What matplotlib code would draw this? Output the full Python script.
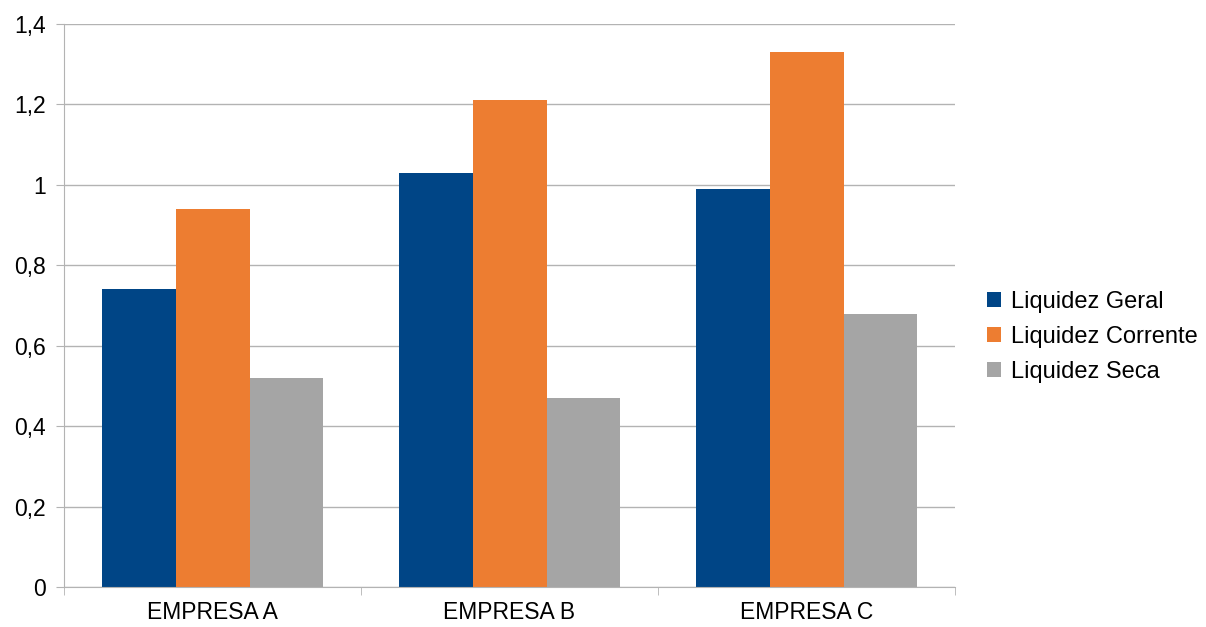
import matplotlib
matplotlib.use("Agg")
import matplotlib.pyplot as plt
import numpy as np
from matplotlib.ticker import FuncFormatter

plt.rcParams['font.family'] = ['Liberation Sans', 'DejaVu Sans']

empresas = ['EMPRESA A', 'EMPRESA B', 'EMPRESA C']
series = ['Liquidez Geral', 'Liquidez Corrente', 'Liquidez Seca']
geral = [0.74, 1.03, 0.99]
corrente = [0.94, 1.21, 1.33]
seca = [0.52, 0.47, 0.68]
cores = ['#004586', '#ed7d31', '#a5a5a5']

fig = plt.figure(figsize=(12.06, 6.27), dpi=100)
ax = fig.add_axes([0.0531, 0.0638, 0.7388, 0.8979])

x = np.arange(len(empresas))
w = 0.249
for i, (vals, nome) in enumerate(zip([geral, corrente, seca], series)):
    ax.bar(x + (i - 1) * w, vals, w, color=cores[i], label=nome, zorder=2)

ax.set_xlim(-0.5, 2.5)
ax.set_ylim(0, 1.4)
ax.set_yticks(np.arange(0, 1.41, 0.2))
ax.yaxis.set_major_formatter(FuncFormatter(lambda v, p: ('%g' % round(v, 1)).replace('.', ',')))
ax.set_xticks(x)
ax.set_xticklabels(empresas)
# category separators on the x axis
ax.set_xticks([-0.5, 0.5, 1.5, 2.5], minor=True)
ax.tick_params(axis='x', which='major', length=0, labelsize=16.5, pad=10)
ax.tick_params(axis='x', which='minor', length=6, color='#b3b3b3')
ax.tick_params(axis='y', length=6, color='#b3b3b3', labelsize=16.5, pad=7)

ax.grid(axis='y', color='#b3b3b3', linewidth=1, zorder=0)
for s in ['top', 'right']:
    ax.spines[s].set_visible(False)
for s in ['left', 'bottom']:
    ax.spines[s].set_color('#b3b3b3')

ax.legend(loc='center left', bbox_to_anchor=(0.818, 0.4625), bbox_transform=fig.transFigure,
          frameon=False, fontsize=17, handlelength=0.6, handleheight=0.6,
          handletextpad=0.45, labelspacing=0.55, borderaxespad=0, borderpad=0)

fig.savefig('out.png', dpi=100)
